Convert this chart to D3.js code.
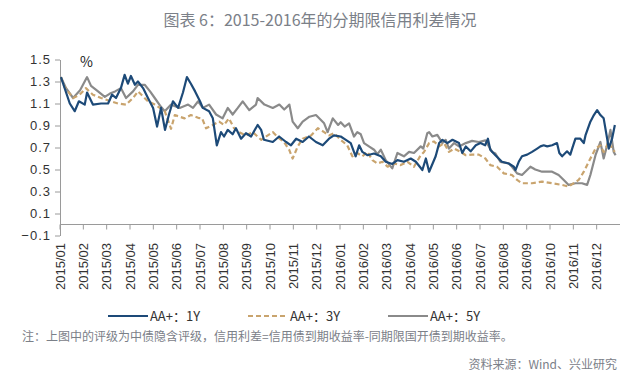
<!DOCTYPE html>
<html>
<head>
<meta charset="utf-8">
<script src="https://cdn.jsdelivr.net/npm/d3@7"></script>
<style>
  body { margin: 0; background: #fff; }
  svg { display: block; font-family: "Noto Sans CJK SC", "Noto Sans", sans-serif; }
</style>
</head>
<body>
<svg id="chart" width="640" height="389"></svg>
<script>
// month labels for the x axis (one tick per month)
var monthLabels = ["2015/01","2015/02","2015/03","2015/04","2015/05","2015/06","2015/07","2015/08","2015/09","2015/10","2015/11","2015/12",
  "2016/01","2016/02","2016/03","2016/04","2016/05","2016/06","2016/07","2016/08","2016/09","2016/10","2016/11","2016/12"];
var yTicks = [-0.1, 0.1, 0.3, 0.5, 0.7, 0.9, 1.1, 1.3, 1.5];

// [months since 2015/01, spread %]
var aa1Y = [[0.04,1.34],[0.42,1.10],[0.63,1.03],[0.81,1.12],[1.06,1.09],[1.16,1.20],[1.41,1.09],[1.76,1.10],[2.06,1.10],[2.23,1.18],[2.40,1.15],[2.61,1.24],
  [2.77,1.36],[2.91,1.28],[3.04,1.35],[3.21,1.27],[3.34,1.30],[3.56,1.24],[3.77,1.15],[3.99,1.06],[4.16,0.89],[4.33,1.06],[4.50,0.86],[4.67,1.00],
  [4.84,1.12],[5.06,1.06],[5.27,1.20],[5.44,1.34],[5.61,1.28],[5.79,1.21],[6.00,1.12],[6.12,1.06],[6.39,1.03],[6.55,0.965],[6.72,0.72],[6.90,0.84],
  [7.03,0.80],[7.19,0.86],[7.40,0.82],[7.54,0.875],[7.76,0.78],[7.97,0.83],[8.19,0.80],[8.47,0.905],[8.62,0.86],[8.74,0.77],[9.12,0.75],[9.39,0.80],
  [9.69,0.75],[9.90,0.72],[10.12,0.78],[10.40,0.75],[10.67,0.80],[10.97,0.75],[11.26,0.72],[11.53,0.78],[11.74,0.81],[12.03,0.80],[12.17,0.78],[12.46,0.74],
  [12.67,0.62],[12.82,0.72],[12.96,0.66],[13.17,0.63],[13.46,0.645],[13.75,0.62],[13.96,0.57],[14.24,0.55],[14.46,0.585],[14.74,0.57],[15.03,0.60],[15.25,0.57],
  [15.53,0.495],[15.68,0.60],[15.82,0.48],[15.96,0.55],[16.10,0.62],[16.25,0.74],[16.39,0.77],[16.60,0.74],[16.82,0.77],[17.10,0.74],[17.24,0.65],[17.39,0.71],
  [17.60,0.665],[17.82,0.72],[18.02,0.74],[18.22,0.72],[18.34,0.78],[18.44,0.68],[18.66,0.63],[18.94,0.57],[19.23,0.555],[19.45,0.525],[19.52,0.495],[19.66,0.57],
  [19.80,0.62],[20.02,0.635],[20.23,0.66],[20.45,0.69],[20.59,0.71],[20.73,0.72],[20.88,0.71],[21.09,0.72],[21.30,0.74],[21.40,0.65],[21.52,0.62],[21.73,0.665],
  [21.87,0.635],[21.95,0.69],[22.09,0.78],[22.30,0.78],[22.45,0.74],[22.52,0.81],[22.73,0.935],[22.88,0.995],[23.02,1.04],[23.16,0.995],[23.30,0.965],[23.45,0.78],
  [23.52,0.69],[23.66,0.78],[23.78,0.905]];

var aa3Y = [[0.04,1.34],[0.20,1.25],[0.56,1.15],[0.84,1.18],[1.11,1.24],[1.41,1.18],[1.76,1.15],[2.19,1.12],[2.49,1.10],[2.83,1.09],[3.13,1.15],[3.34,1.21],
  [3.77,1.12],[4.06,1.09],[4.49,1.03],[4.76,0.87],[4.92,0.995],[5.34,0.965],[5.61,0.995],[5.92,0.97],[6.09,0.965],[6.26,0.875],[6.55,0.905],[6.82,0.935],
  [7.03,0.905],[7.24,0.965],[7.46,0.875],[7.67,0.84],[7.97,0.81],[8.26,0.84],[8.62,0.77],[9.12,0.84],[9.33,0.795],[9.60,0.75],[9.82,0.68],[9.97,0.60],
  [10.19,0.71],[10.40,0.78],[10.76,0.81],[11.05,0.875],[11.32,0.84],[11.53,0.81],[11.74,0.83],[12.03,0.77],[12.31,0.72],[12.53,0.62],[12.74,0.65],[12.96,0.62],
  [13.17,0.66],[13.39,0.585],[13.60,0.555],[13.82,0.57],[14.04,0.525],[14.32,0.555],[14.60,0.54],[14.89,0.57],[15.17,0.525],[15.46,0.63],[15.60,0.66],[15.82,0.74],
  [16.03,0.755],[16.25,0.71],[16.46,0.74],[16.67,0.66],[16.89,0.69],[17.17,0.66],[17.39,0.63],[17.66,0.635],[17.95,0.635],[18.23,0.60],[18.44,0.54],[18.73,0.525],
  [19.02,0.465],[19.37,0.45],[19.59,0.405],[19.80,0.375],[20.23,0.375],[20.66,0.39],[21.09,0.375],[21.52,0.36],[21.80,0.345],[22.23,0.405],[22.45,0.48],[22.66,0.57],
  [22.95,0.69],[23.16,0.72],[23.30,0.66],[23.52,0.75],[23.66,0.69],[23.78,0.66]];

var aa5Y = [[0.04,1.34],[0.26,1.24],[0.56,1.15],[0.86,1.22],[1.16,1.34],[1.33,1.26],[1.63,1.21],[1.92,1.16],[2.14,1.19],[2.36,1.21],[2.61,1.24],[2.83,1.15],
  [3.13,1.21],[3.34,1.27],[3.63,1.27],[3.86,1.21],[4.06,1.15],[4.29,1.08],[4.49,1.03],[4.76,1.09],[5.13,1.06],[5.49,1.09],[5.70,1.06],[5.92,1.12],
  [6.12,1.06],[6.39,1.09],[6.69,1.00],[6.97,0.965],[7.19,1.06],[7.40,1.00],[7.62,1.06],[7.83,1.12],[8.11,1.04],[8.40,1.09],[8.47,1.15],[8.76,1.09],
  [9.12,1.06],[9.40,1.09],[9.61,1.045],[9.83,1.09],[9.97,0.935],[10.19,0.875],[10.40,0.935],[10.69,0.98],[10.97,0.995],[11.32,0.92],[11.47,0.84],[11.69,0.965],
  [11.92,0.905],[12.03,0.93],[12.20,0.89],[12.39,0.92],[12.60,0.80],[12.74,0.84],[12.89,0.82],[13.03,0.74],[13.24,0.71],[13.46,0.68],[13.60,0.64],[13.75,0.68],
  [13.96,0.585],[14.24,0.51],[14.46,0.65],[14.74,0.62],[14.96,0.66],[15.17,0.65],[15.46,0.71],[15.57,0.69],[15.74,0.83],[15.82,0.84],[15.96,0.80],[16.17,0.815],
  [16.39,0.74],[16.53,0.77],[16.67,0.69],[16.89,0.74],[17.10,0.71],[17.39,0.74],[17.66,0.76],[17.95,0.75],[18.23,0.765],[18.52,0.66],[18.66,0.645],[18.87,0.57],
  [19.23,0.555],[19.37,0.525],[19.59,0.465],[19.80,0.45],[20.16,0.525],[20.37,0.50],[20.66,0.48],[21.09,0.48],[21.37,0.45],[21.59,0.405],[21.80,0.36],[22.09,0.375],
  [22.37,0.375],[22.59,0.36],[22.73,0.45],[22.95,0.63],[23.16,0.75],[23.30,0.60],[23.45,0.72],[23.59,0.86],[23.73,0.66],[23.81,0.63]];

var seriesNames = ["AA+：1Y", "AA+：3Y", "AA+：5Y"];
var seriesData = [aa1Y, aa3Y, aa5Y];
var seriesColors = ["#1d4a78", "#c9a46e", "#8a8a8a"];
var seriesDash = [null, "5,3", null];

var svg = d3.select("#chart");
var margin = { left: 60, right: 20, top: 59.5, bottom: 153.5 };

var x = d3.scaleLinear().domain([0, 24]).range([60, 620]);
var y = d3.scaleLinear().domain([-0.1, 1.5]).range([235.5, 59.5]);

// title
svg.append("text")
    .attr("x", 320).attr("y", 26)
    .attr("text-anchor", "middle")
    .attr("font-size", 16)
    .attr("fill", "#7b8088")
    .text("图表 6：2015-2016年的分期限信用利差情况");

// y axis
var yAxis = svg.append("g")
    .attr("transform", "translate(60,0)")
    .call(d3.axisLeft(y).tickValues(yTicks).tickSize(5).tickSizeOuter(0)
        .tickFormat(function (d) { return d3.format(".1f")(d).replace("-", "−"); }));
yAxis.select(".domain").attr("stroke", "#9a9a9a");
yAxis.selectAll(".tick line").attr("stroke", "#9a9a9a");
yAxis.selectAll(".tick text")
    .attr("x", -9)
    .attr("font-size", 13)
    .attr("letter-spacing", "1px")
    .attr("fill", "#333")
    .attr("font-family", "'Liberation Sans', sans-serif");

// x axis line at zero
svg.append("line")
    .attr("x1", x(0)).attr("x2", x(24))
    .attr("y1", y(0)).attr("y2", y(0))
    .attr("stroke", "#9a9a9a");

var xt = svg.append("g").selectAll("g")
    .data(monthLabels)
    .enter().append("g");
xt.append("line")
    .attr("x1", function (d, i) { return x(i); })
    .attr("x2", function (d, i) { return x(i); })
    .attr("y1", y(0)).attr("y2", y(0) + 5)
    .attr("stroke", "#9a9a9a");
xt.append("text")
    .attr("transform", function (d, i) { return "translate(" + x(i) + ",243) rotate(-90)"; })
    .attr("text-anchor", "end")
    .attr("dy", "0.35em")
    .attr("font-size", 13)
    .attr("fill", "#333")
    .attr("font-family", "'Liberation Sans', sans-serif")
    .text(function (d) { return d; });

// unit
svg.append("text")
    .attr("x", 80).attr("y", 67)
    .attr("font-size", 14)
    .attr("fill", "#222")
    .text("%");

// lines, drawn 5Y first so 1Y sits on top
var line = d3.line()
    .x(function (d) { return x(d[0]); })
    .y(function (d) { return y(d[1]); });

[2, 1, 0].forEach(function (i) {
    svg.append("path")
        .datum(seriesData[i])
        .attr("fill", "none")
        .attr("stroke", seriesColors[i])
        .attr("stroke-width", 2.2)
        .attr("stroke-linejoin", "round")
        .attr("stroke-dasharray", seriesDash[i])
        .attr("d", line);
});

// legend
var legendX = [108, 248, 388];
var lg = svg.append("g").selectAll("g")
    .data(seriesNames)
    .enter().append("g")
    .attr("transform", function (d, i) { return "translate(" + legendX[i] + ",316)"; });
lg.append("line")
    .attr("x1", 0).attr("x2", 40)
    .attr("stroke", function (d, i) { return seriesColors[i]; })
    .attr("stroke-width", 2.2)
    .attr("stroke-dasharray", function (d, i) { return seriesDash[i]; });
lg.append("text")
    .attr("x", 42).attr("dy", "0.35em")
    .attr("font-size", 13)
    .attr("fill", "#333")
    .text(function (d) { return d; });

// notes
svg.append("text")
    .attr("x", 22).attr("y", 341)
    .attr("font-size", 12)
    .attr("fill", "#7b8088")
    .text("注：上图中的评级为中债隐含评级，信用利差=信用债到期收益率-同期限国开债到期收益率。");
svg.append("text")
    .attr("x", 617).attr("y", 369)
    .attr("text-anchor", "end")
    .attr("font-size", 12)
    .attr("fill", "#7b8088")
    .text("资料来源：Wind、兴业研究");
</script>
</body>
</html>
